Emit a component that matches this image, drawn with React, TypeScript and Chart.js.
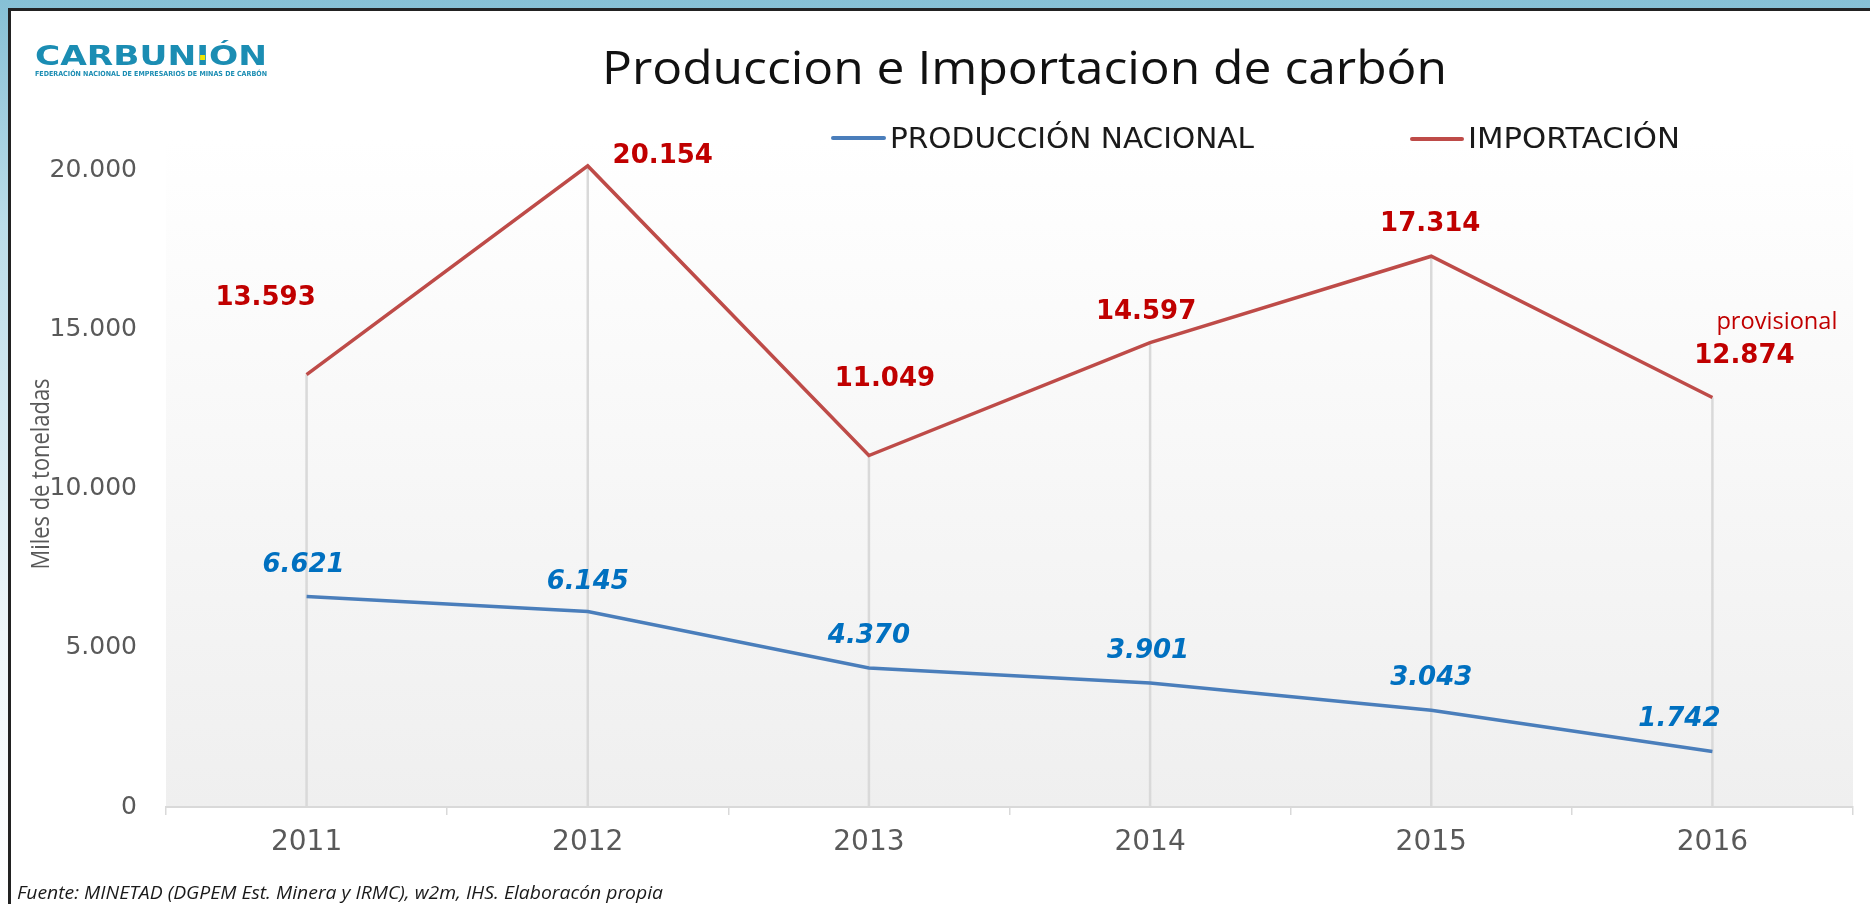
import React, { useEffect, useRef } from "react";
import { Chart, registerables } from "chart.js";

Chart.register(...registerables);

// ---- data ----
const years = ["2011", "2012", "2013", "2014", "2015", "2016"];
const produccionNacional = [6621, 6145, 4370, 3901, 3043, 1742];
const importacion = [13593, 20154, 11049, 14597, 17314, 12874];
const yTickValues = [0, 5000, 10000, 15000, 20000];
const seriesNames = ["PRODUCCIÓN NACIONAL", "IMPORTACIÓN"];
const chartTitle = "Produccion e Importacion de carbón";
const yAxisTitle = "Miles de toneladas";
const sourceNote = "Fuente: MINETAD (DGPEM Est. Minera y IRMC), w2m, IHS. Elaboracón propia";
const provisionalNote = "provisional";

// label offsets (pixels from the data point)
const importLabelOffsets = [[-41, -76], [75, -10], [16, -76], [-4, -30], [-1, -32], [32, -41]];
const prodLabelOffsets = [[-3, -31], [0, -29], [0, -32], [-2, -32], [0, -32], [-33, -32]];

const BLUE = "#4a7ebb";
const RED = "#be4b48";
const RED_LABEL = "#c00000";
const BLUE_LABEL = "#0070c0";
const GRAY_TEXT = "#595959";

const fmt = (v: number) => String(Math.round(v)).replace(/\B(?=(\d{3})+(?!\d))/g, ".");

function fitText(
  ctx: CanvasRenderingContext2D,
  text: string,
  x: number,
  y: number,
  font: string,
  color: string,
  width: number,
  align: CanvasTextAlign = "left",
  baseline: CanvasTextBaseline = "alphabetic"
) {
  ctx.save();
  ctx.font = font;
  ctx.fillStyle = color;
  ctx.textBaseline = baseline;
  ctx.textAlign = align;
  const w = ctx.measureText(text).width;
  const sx = width ? width / w : 1;
  ctx.translate(x, y);
  ctx.scale(sx, 1);
  ctx.fillText(text, 0, 0);
  ctx.restore();
  return sx;
}

const plotBgPlugin = {
  id: "plotBg",
  beforeDraw(chart: any) {
    const { ctx, chartArea } = chart;
    const g = ctx.createLinearGradient(0, chartArea.top, 0, chartArea.bottom);
    g.addColorStop(0, "#ffffff");
    g.addColorStop(1, "#efefef");
    ctx.save();
    ctx.fillStyle = g;
    ctx.fillRect(chartArea.left, chartArea.top, chartArea.right - chartArea.left, chartArea.bottom - chartArea.top);
    ctx.restore();
  },
};

const dropLinesPlugin = {
  id: "dropLines",
  beforeDatasetsDraw(chart: any) {
    const { ctx, scales } = chart;
    const xs = scales.x;
    const ys = scales.y;
    ctx.save();
    ctx.strokeStyle = "#d9d9d9";
    ctx.lineWidth = 2.5;
    years.forEach((_, i) => {
      const x = xs.getPixelForValue(i);
      const top = ys.getPixelForValue(Math.max(produccionNacional[i], importacion[i]));
      const bottom = ys.getPixelForValue(0);
      ctx.beginPath();
      ctx.moveTo(x, top);
      ctx.lineTo(x, bottom);
      ctx.stroke();
    });
    ctx.restore();
  },
};

const decorPlugin = {
  id: "decor",
  afterDraw(chart: any) {
    const { ctx, scales } = chart;
    const xs = scales.x;
    const ys = scales.y;

    // logo
    const logoFont = 'bold 26px "DejaVu Sans"';
    const logoColor = "#1b8db3";
    const sx = fitText(ctx, "CARBUNIÓN", 35, 65, logoFont, logoColor, 232);
    ctx.save();
    ctx.font = logoFont;
    const wPre = ctx.measureText("CARBUN").width;
    const wI = ctx.measureText("I").width;
    ctx.fillStyle = "#f2e600";
    ctx.fillRect(35 + (wPre + wI / 2) * sx - 2.5, 55, 5, 5);
    ctx.restore();
    fitText(ctx, "FEDERACIÓN NACIONAL DE EMPRESARIOS DE MINAS DE CARBÓN", 35, 76, 'bold 7px "DejaVu Sans"', logoColor, 232);

    // title
    fitText(ctx, chartTitle, 1024.5, 83.5, '46px "Open Sans"', "#111111", 845, "center");

    // legend
    ctx.save();
    ctx.lineCap = "round";
    ctx.lineWidth = 4;
    ctx.strokeStyle = BLUE;
    ctx.beginPath();
    ctx.moveTo(833, 138);
    ctx.lineTo(884, 138);
    ctx.stroke();
    ctx.strokeStyle = RED;
    ctx.beginPath();
    ctx.moveTo(1412, 139);
    ctx.lineTo(1462, 139);
    ctx.stroke();
    ctx.restore();
    fitText(ctx, seriesNames[0], 890, 148, '28px "DejaVu Sans"', "#1a1a1a", 364);
    fitText(ctx, seriesNames[1], 1468, 148, '28px "DejaVu Sans"', "#1a1a1a", 212);

    // y-axis title (rotated)
    ctx.save();
    ctx.translate(49, 474);
    ctx.rotate(-Math.PI / 2);
    fitText(ctx, yAxisTitle, 0, 0, '26px "Open Sans"', GRAY_TEXT, 191, "center");
    ctx.restore();

    // source
    fitText(ctx, sourceNote, 17, 899, 'italic 19px "Open Sans"', "#1a1a1a", 646);

    // data labels
    ctx.save();
    ctx.textAlign = "center";
    ctx.textBaseline = "middle";
    ctx.font = 'bold 26px "DejaVu Sans"';
    ctx.fillStyle = RED_LABEL;
    importacion.forEach((v, i) => {
      const x = xs.getPixelForValue(i) + importLabelOffsets[i][0];
      const y = ys.getPixelForValue(v) + importLabelOffsets[i][1];
      ctx.fillText(fmt(v), x, y);
    });
    ctx.font = 'italic bold 26px "DejaVu Sans"';
    ctx.fillStyle = BLUE_LABEL;
    produccionNacional.forEach((v, i) => {
      const x = xs.getPixelForValue(i) + prodLabelOffsets[i][0];
      const y = ys.getPixelForValue(v) + prodLabelOffsets[i][1];
      ctx.fillText(fmt(v), x, y);
    });
    ctx.restore();

    // provisional note near the last import point
    const lastX = xs.getPixelForValue(years.length - 1);
    const lastY = ys.getPixelForValue(importacion[importacion.length - 1]);
    fitText(ctx, provisionalNote, lastX + 4, lastY - 68, '23px "Open Sans"', RED_LABEL, 121);
  },
};

export default function App() {
  const ref = useRef<HTMLCanvasElement | null>(null);

  useEffect(() => {
    if (!ref.current) return;
    const chart = new Chart(ref.current, {
      type: "line",
      data: {
        labels: years,
        datasets: [
          {
            label: seriesNames[0],
            data: produccionNacional,
            borderColor: BLUE,
            backgroundColor: BLUE,
            borderWidth: 3.5,
            pointRadius: 0,
            tension: 0,
            fill: false,
            clip: false as any,
          },
          {
            label: seriesNames[1],
            data: importacion,
            borderColor: RED,
            backgroundColor: RED,
            borderWidth: 3.5,
            pointRadius: 0,
            tension: 0,
            fill: false,
            clip: false as any,
          },
        ],
      },
      options: {
        responsive: false,
        animation: false,
        layout: { padding: { left: 0, right: 17, top: 139, bottom: 0 } },
        plugins: {
          legend: { display: false },
          title: { display: false },
          tooltip: { enabled: false },
        },
        scales: {
          x: {
            offset: true,
            grid: {
              offset: true,
              drawOnChartArea: false,
              drawTicks: true,
              tickLength: 8,
              color: "#d9d9d9",
              lineWidth: 1.5,
            },
            border: { color: "#d9d9d9", width: 2 },
            ticks: {
              font: { family: "DejaVu Sans", size: 28 },
              color: GRAY_TEXT,
              padding: 11,
              maxRotation: 0,
              autoSkip: false,
            },
            afterFit: (s: any) => {
              s.height = 97;
            },
          },
          y: {
            min: 0,
            max: 21000,
            afterBuildTicks: (s: any) => {
              s.ticks = yTickValues.map((v) => ({ value: v }));
            },
            grid: { display: false },
            border: { display: false },
            ticks: {
              font: { family: "DejaVu Sans", size: 25 },
              color: GRAY_TEXT,
              padding: 21,
              callback: (v: any) => fmt(Number(v)),
            },
            afterFit: (s: any) => {
              s.width = 166;
            },
          },
        },
      },
      plugins: [plotBgPlugin, dropLinesPlugin, decorPlugin],
    });
    return () => chart.destroy();
  }, []);

  return (
    <div
      style={{
        position: "fixed",
        left: 0,
        top: 0,
        width: 1870,
        height: 904,
        overflow: "hidden",
        background: "linear-gradient(to bottom, #86c0d5 0%, #bcdde9 25%, #eef6f9 70%, #ffffff 100%)",
      }}
    >
      <div
        style={{
          position: "absolute",
          left: 8,
          top: 8,
          right: 0,
          bottom: 0,
          background: "#ffffff",
          borderLeft: "3px solid #222222",
          borderTop: "3px solid #222222",
        }}
      />
      <canvas
        ref={ref}
        width={1870}
        height={904}
        style={{ position: "absolute", left: 0, top: 0, width: 1870, height: 904 }}
      />
    </div>
  );
}
